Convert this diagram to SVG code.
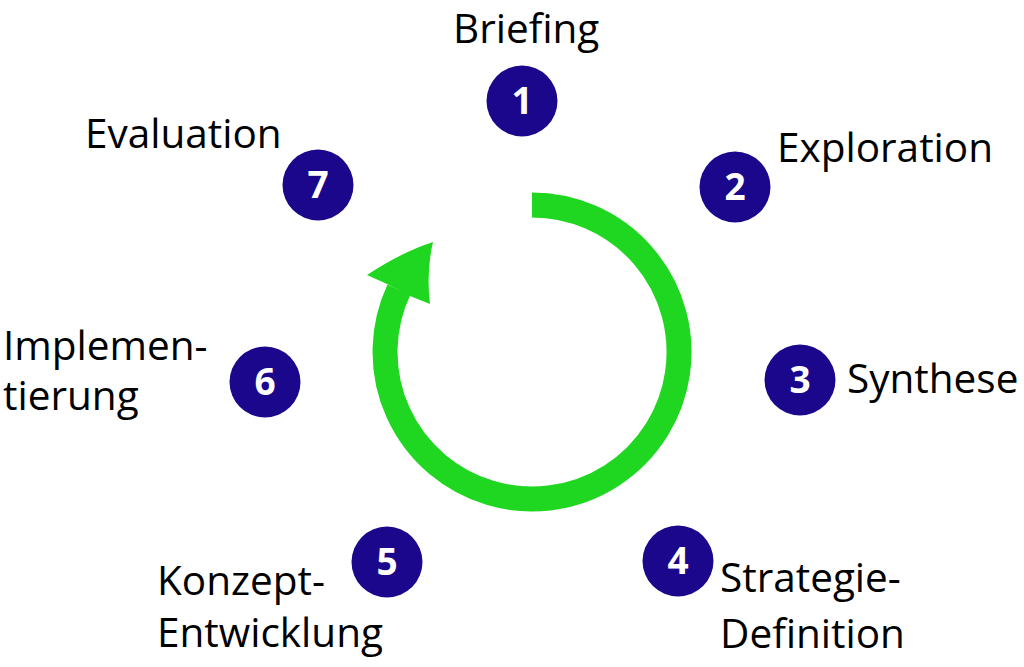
<svg xmlns="http://www.w3.org/2000/svg" width="1024" height="667" viewBox="0 0 1024 667">
<style>
.lbl{font-family:"Open Sans","Noto Sans","Liberation Sans",sans-serif;font-size:40.5px;fill:#000}
.num{font-family:"Open Sans","Noto Sans","Liberation Sans",sans-serif;font-size:37px;font-weight:bold;fill:#fff;text-anchor:middle}
.dot{fill:#1a078c}
</style>
<rect width="1024" height="667" fill="#fff"/>
<g id="connectors">
<path d="M532,205 A147,147 0 1 1 398.8,289.9" fill="none" stroke="#1fd621" stroke-width="25"/>
<path d="M387,284 L367,275 Q402,252 433,242 Q426,272 430,304 L410,296 Z" fill="#1fd621"/>
</g>
<g id="n1"><circle class="dot" cx="522" cy="101" r="35.5"/><text class="num" x="522" y="114">1</text><text class="lbl" x="453" y="43">Briefing</text></g>
<g id="n2"><circle class="dot" cx="735" cy="187" r="35.5"/><text class="num" x="735" y="200">2</text><text class="lbl" x="777" y="162">Exploration</text></g>
<g id="n3"><circle class="dot" cx="800" cy="380" r="35.5"/><text class="num" x="800" y="393">3</text><text class="lbl" x="847" y="393">Synthese</text></g>
<g id="n4"><circle class="dot" cx="678" cy="561" r="35.5"/><text class="num" x="678" y="574">4</text><text class="lbl" x="720" y="592">Strategie-</text><text class="lbl" x="720" y="648">Definition</text></g>
<g id="n5"><circle class="dot" cx="387" cy="562" r="35.5"/><text class="num" x="387" y="575">5</text><text class="lbl" x="157" y="595">Konzept-</text><text class="lbl" x="157" y="647">Entwicklung</text></g>
<g id="n6"><circle class="dot" cx="265" cy="382" r="35.5"/><text class="num" x="265" y="395">6</text><text class="lbl" x="3" y="360">Implemen-</text><text class="lbl" x="3" y="410">tierung</text></g>
<g id="n7"><circle class="dot" cx="318" cy="185" r="35.5"/><text class="num" x="318" y="198">7</text><text class="lbl" x="85" y="148">Evaluation</text></g>
</svg>
